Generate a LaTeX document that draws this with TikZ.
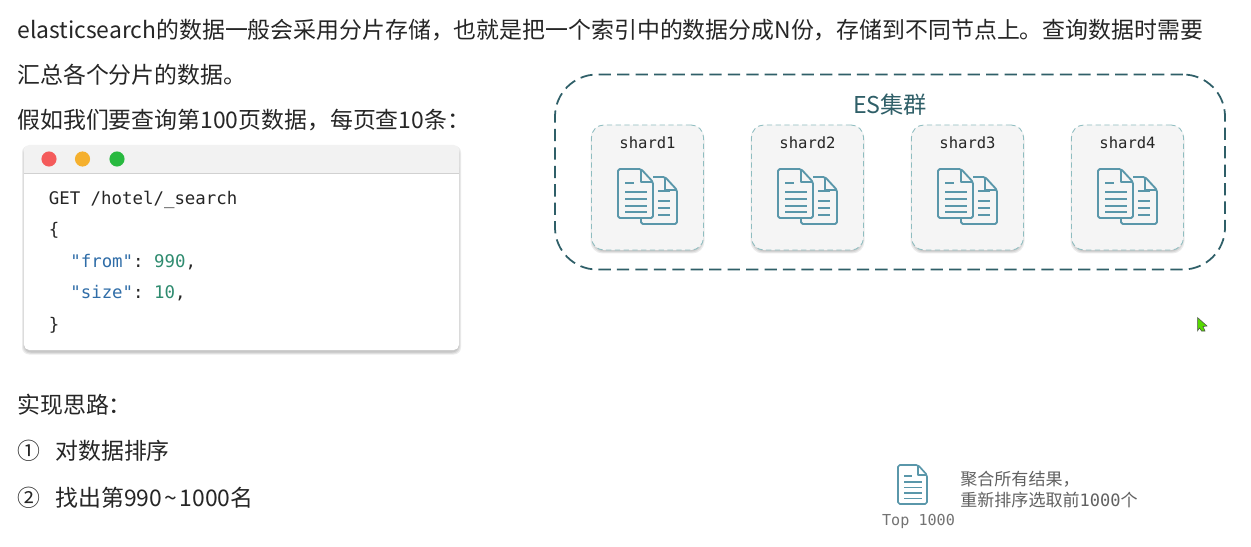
\documentclass[tikz,border=0pt]{standalone}
\usepackage{fontspec}
\setmainfont{Noto Sans CJK SC}
\setmonofont{DejaVu Sans Mono}
\usetikzlibrary{positioning}
\definecolor{tealdark}{HTML}{2F5F68}
\definecolor{tealicon}{HTML}{5A97AA}
\definecolor{tealdash}{HTML}{8FBDC0}
\definecolor{codeblue}{HTML}{2F6DA8}
\definecolor{codegreen}{HTML}{2E8B6F}
\definecolor{btnred}{HTML}{F45B5B}
\definecolor{btnyellow}{HTML}{F5B02E}
\definecolor{btngreen}{HTML}{28B93F}
\newcommand{\softshadow}[5]{%
  \foreach \grow in {0,1,2}{
    \fill[black, opacity=0.08, rounded corners=#5] (#1-\grow,#2-\grow+2.5) rectangle (#3+\grow,#4+\grow+2.5);
  }
}
\tikzset{
  bodytext/.style={anchor=west, inner sep=0pt, font=\fontsize{13.03}{15}\selectfont, text=black!85},
  codetext/.style={anchor=west, inner sep=0pt, font=\ttfamily\fontsize{9.9}{12}\selectfont, text=black!85},
  shardbox/.style={draw=tealdash, densely dashed, line width=0.5pt, fill=black!4, rounded corners=7pt,
    minimum width=112*0.5692pt, minimum height=125*0.5692pt},
  shardname/.style={inner sep=0pt, font=\ttfamily\fontsize{8.85}{10}\selectfont, text=black!85},
  resulttext/.style={anchor=west, inner sep=0pt, text=black!62, font=\fontsize{9.7}{10}\selectfont},
  btndot/.style={circle, inner sep=0pt, minimum size=8.6pt},
  docline/.style={draw=tealicon, line width=1.05pt, line join=round},
  pics/docfront/.style={code={
    \draw[docline, fill=black!4, rounded corners=1pt] (0,0) -- (23,0) -- (35,13) -- (35,49) -- (0,49) -- cycle;
    \draw[docline] (23,0) -- (23,13) -- (35,13);
    \draw[docline] (7,14) -- (16,14) (7,23) -- (29,23) (7,30) -- (29,30) (7,37) -- (29,37) (7,43) -- (29,43);
  }},
  pics/docback/.style={code={
    \draw[docline, rounded corners=1pt] (12,0) -- (24,0) -- (36,13) -- (36,47) -- (0,47) -- (0,41);
    \draw[docline] (24,0) -- (24,13) -- (36,13);
    \draw[docline] (17,14) -- (29,14) (17,24) -- (29,24) (17,31) -- (29,31) (17,38) -- (29,38);
  }},
  pics/docsingle/.style={code={
    \draw[docline, line width=0.95pt, rounded corners=1pt] (0,0) -- (20,0) -- (29,10) -- (29,39) -- (0,39) -- cycle;
    \draw[docline, line width=0.8pt] (20,0) -- (20,10) -- (29,10);
    \draw[docline, line width=0.8pt] (6,11) -- (14,11) (6,17) -- (24,17) (6,22.5) -- (24,22.5) (6,28) -- (24,28) (6,33.5) -- (24,33.5);
  }}
}
\begin{document}
\begin{tikzpicture}[x=0.02cm, y=-0.02cm]
\useasboundingbox[fill=white] (0,0) rectangle (1251,547);
% left hand text
\node[bodytext] (introa) at (17,30) {elasticsearch的数据一般会采用分片存储，也就是把一个索引中的数据分成N份，存储到不同节点上。查询数据时需要};
\node[bodytext] (introb) at (17,75) {汇总各个分片的数据。};
\node[bodytext] (introc) at (17,120) {假如我们要查询第100页数据，每页查10条：};
% code window
\softshadow{24}{145}{459}{350}{4pt}
\node[fill=white, rounded corners=3pt, minimum width=435*0.5692pt, minimum height=205*0.5692pt] (window) at (241.5,247.5) {};
\fill[black!5, rounded corners=3pt] (24,145) rectangle (459,173);
\fill[black!5] (24,165) rectangle (459,173);
\draw[black!18, line width=0.6pt] (24,173.5) -- (459,173.5);
\node[btndot, fill=btnred] (dotred) at (49,159) {};
\node[btndot, fill=btnyellow] (dotyellow) at (82.5,159) {};
\node[btndot, fill=btngreen] (dotgreen) at (117,159) {};
\node[codetext] (codea) at (48.5,199.5) {GET /hotel/\_search};
\node[codetext] (codeb) at (48.5,230.5) {\{};
\node[codetext] (codec) at (70,262) {\textcolor{codeblue}{"from"}: \textcolor{codegreen}{990},};
\node[codetext] (coded) at (70,293.5) {\textcolor{codeblue}{"size"}: \textcolor{codegreen}{10},};
\node[codetext] (codee) at (48.5,325.5) {\}};
% steps
\node[bodytext] (steptitle) at (17,405) {实现思路：};
\node[bodytext] (stepnuma) at (17,451) {①};
\node[bodytext] (stepa) at (55,451) {对数据排序};
\node[bodytext] (stepnumb) at (17,498) {②};
\node[bodytext] (stepb) at (55,498) {找出第990\kern1.4pt\textasciitilde\kern1.4pt1000名};
% cluster
\node[draw=tealdark, line width=1pt, dash pattern=on 7pt off 3.5pt, rounded corners=24pt,
  minimum width=670*0.5692pt, minimum height=195*0.5692pt] (cluster) at (890,172) {};
\node[inner sep=0pt, text=tealdark, font=\fontsize{13.2}{15}\selectfont] (clustername) at (890,105) {ES集群};
\foreach \name/\posx in {1/647.5,2/807.5,3/967.5,4/1127.5}{
  \softshadow{\posx-55}{126}{\posx+55}{249}{7pt}
  \node[shardbox] (shard\name) at (\posx,187.5) {};
  \node[shardname] (shardname\name) at (\posx,143) {shard\name};
  \pic at (\posx-6.5,177) {docback};
  \pic at (\posx-29.5,169) {docfront};
}
% result
\pic at (898,465) {docsingle};
\node[inner sep=0pt, text=black!55, font=\ttfamily\fontsize{8.6}{10}\selectfont] (toplabel) at (918.5,521) {Top 1000};
\node[resulttext] (resulta) at (960,479) {聚合所有结果，};
\node[resulttext] (resultb) at (960,500) {重新排序选取前{\ttfamily 1000}个};
% pointer
\fill[green!60!yellow!85!black, draw=black!70, line width=0.3pt] (1197.5,317.5) -- (1207,326) -- (1203,326.5) -- (1205,331) -- (1201.5,331) -- (1199.5,328) -- (1197.5,331) -- cycle;
\end{tikzpicture}
\end{document}
